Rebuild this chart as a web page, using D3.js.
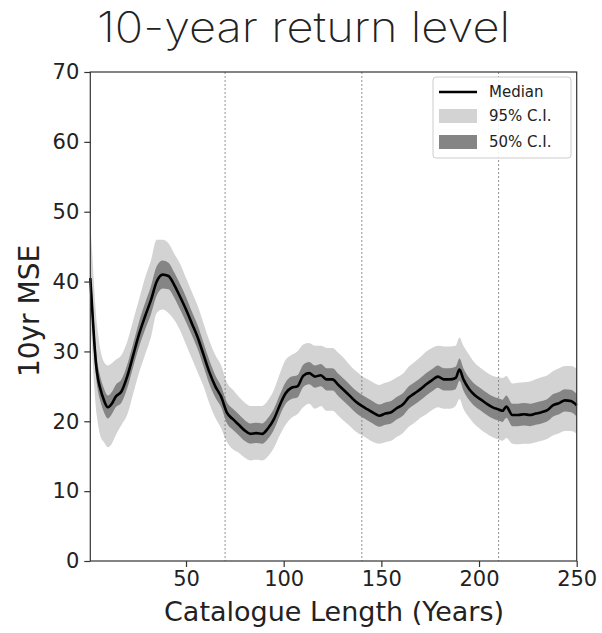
<!DOCTYPE html>
<html>
<head>
<meta charset="utf-8">
<script src="https://cdn.jsdelivr.net/npm/d3@7"></script>
<style>
  html, body { margin: 0; padding: 0; background: #fff; }
  svg { display: block; }
</style>
</head>
<body>
<svg id="chart" width="602" height="633"></svg>
<script>
const years = [1,2,3,4,5,6,8,10,12,14,17,20,23,26,29,32,35,38,41,44,47,50,53,56,59,62,65,68,71,74,77,80,83,86,89,92,95,98,101,104,107,110,113,116,119,122,125,128,131,134,137,140,143,146,149,152,155,158,161,164,167,170,173,176,179,182,185,188,190,192,195,198,201,204,207,210,212,214,217,220,223,226,229,232,235,238,241,244,247,250];

const median = [40.5,36,31.5,28,26,24.8,23,22,22.5,23.5,24.3,26.5,29.5,32.5,35,37.3,40,41,40.8,39.5,37.8,36,34,32,29.5,27,25,23.5,21.2,20.3,19.5,18.7,18.2,18.3,18.2,19,20.3,22.3,24,24.8,25,26.5,26.9,26.4,26.6,26,26,25.2,24.4,23.6,22.8,22.2,21.7,21.2,20.8,21.1,21.3,21.9,22.4,23.4,24,24.6,25.3,25.9,26.4,26,26,26.2,27.4,26,24.6,23.7,23.1,22.5,22,21.7,21.5,22.1,20.9,20.9,21,20.9,21.1,21.3,21.6,22.3,22.6,23,22.9,22.3];

const hi50 = [42.5,38,33.5,30,27.8,26.5,24.7,23.7,24.2,25.2,26,28.2,31.2,34.3,36.9,39.3,42.2,43,42.7,41.3,39.6,37.8,35.7,33.7,31.2,28.7,26.6,25,22.7,21.8,21,20.2,19.7,19.8,19.7,20.5,21.8,23.8,25.6,26.4,26.6,28.1,28.5,28,28.2,27.6,27.6,26.8,26,25.2,24.4,23.8,23.3,22.8,22.4,22.7,22.9,23.5,24,25,25.6,26.2,26.9,27.5,28,27.6,27.6,27.8,29,27.6,26.2,25.3,24.7,24.1,23.6,23.3,23.1,23.7,22.5,22.5,22.6,22.5,22.7,22.9,23.2,23.9,24.2,24.6,24.5,23.9];

const lo50 = [38.5,34,29.5,26.2,24.2,23,21.3,20.4,21,22,22.7,24.8,27.8,30.7,33.1,35.3,38,39,38.9,37.7,36,34.2,32.3,30.3,27.8,25.3,23.4,22,19.7,18.8,18,17.2,16.8,16.9,16.8,17.5,18.8,20.8,22.5,23.2,23.4,24.9,25.3,24.8,25,24.4,24.4,23.6,22.8,22,21.2,20.6,20.1,19.6,19.2,19.5,19.7,20.3,20.8,21.8,22.4,23,23.7,24.3,24.8,24.4,24.4,24.6,25.8,24.4,23,22.1,21.5,20.9,20.4,20.1,19.9,20.5,19.3,19.3,19.4,19.3,19.5,19.7,20,20.7,21,21.4,21.3,20.7];

const hi95 = [48,44,39,35,32.5,30.5,28.5,28,28.3,28.8,29.5,31.5,34.5,37.5,40.5,43,46,46,45.5,44,42.5,40.5,38.5,36.5,34,31.5,29.5,28,25.5,24.5,23.5,22.7,22.2,22.2,22.2,23,24.5,26.8,28.8,29.5,30,31,31.2,30.8,30.8,30.5,30.5,29.8,29,28,27.2,26.5,26,25.5,25.2,25.5,25.8,26.3,26.8,27.8,28.5,29.2,30,30.5,30.8,30.7,30.7,30.8,32,30.8,29.5,28.3,27.6,27,26.5,26.3,26.2,26.5,25.4,25.5,25.6,25.7,26,26.3,26.6,27.2,27.6,27.9,27.9,27.5];

const lo95 = [35,30,25,21.5,19.5,18,17,16.3,16.8,18,19.5,21,24,27,29.5,32,35.5,36,35.5,34.5,33,31,29,27,25,22.5,20.5,19,17,16,15.5,14.8,14.4,14.5,14.4,15,16.2,18,19.5,20.5,21,22,22.5,21.8,22.2,21.5,21.5,20.8,20,19.3,18.5,18,17.5,17,16.8,17,17.2,17.8,18.3,19.2,19.8,20.5,21,21.6,22,21.8,21.8,22.2,23.2,21.8,20.5,19.5,18.8,18.2,17.7,17.4,17.2,17.6,16.8,16.7,16.8,16.8,17,17.2,17.5,18,18.3,18.6,18.6,18.2];

const xTicks = [50,100,150,200,250];
const yTicks = [0,10,20,30,40,50,60,70];
const splitYears = [70,140,210];
const legendLabels = ["Median","95% C.I.","50% C.I."];

(function(){
const svg = d3.select("#chart");
const pL = 90.3, pR = 576.7, pT = 72, pB = 561;

const x = d3.scaleLinear().domain([1,250]).range([pL,pR]);
const y = d3.scaleLinear().domain([0,70]).range([pB,pT]);

const data = years.map((yr,i)=>({yr, m:median[i], h50:hi50[i], l50:lo50[i], h95:hi95[i], l95:lo95[i]}));

// title
svg.append("text")
  .attr("x", 97).attr("y", 42)
  .attr("textLength", 413).attr("lengthAdjust","spacingAndGlyphs")
  .style("font-family","Inter, Lato, 'Open Sans', sans-serif")
  .style("font-weight", 200)
  .style("font-size","42px")
  .style("fill","#222")
  .text("10-year return level");

const plot = svg.append("g");

const area95 = d3.area().x(d=>x(d.yr)).y0(d=>y(d.l95)).y1(d=>y(d.h95)).curve(d3.curveMonotoneX);
const area50 = d3.area().x(d=>x(d.yr)).y0(d=>y(d.l50)).y1(d=>y(d.h50)).curve(d3.curveMonotoneX);
const line = d3.line().x(d=>x(d.yr)).y(d=>y(d.m)).curve(d3.curveMonotoneX);

plot.append("path").datum(data).attr("d",area95).attr("fill","#d3d3d3");
plot.append("path").datum(data).attr("d",area50).attr("fill","#858585");

plot.selectAll("line.sep").data(splitYears).enter().append("line")
  .attr("class","sep")
  .attr("x1",d=>x(d)).attr("x2",d=>x(d))
  .attr("y1",pT).attr("y2",pB)
  .attr("stroke","#777").attr("stroke-width",0.8)
  .attr("stroke-dasharray","2,2");

plot.append("path").datum(data).attr("d",line)
  .attr("fill","none").attr("stroke","#000").attr("stroke-width",2.6)
  .attr("stroke-linejoin","round");

svg.append("rect").attr("x",pL).attr("y",pT)
  .attr("width",pR-pL).attr("height",pB-pT)
  .attr("fill","none").attr("stroke","#333").attr("stroke-width",1.2);

const fontTick = "DejaVu Sans, sans-serif";
const xAxis = svg.append("g").attr("transform",`translate(0,${pB})`)
  .call(d3.axisBottom(x).tickValues(xTicks).tickSize(6).tickPadding(4).tickFormat(d3.format("d")));
const yAxis = svg.append("g").attr("transform",`translate(${pL},0)`)
  .call(d3.axisLeft(y).tickValues(yTicks).tickSize(6).tickPadding(5).tickFormat(d3.format("d")));
[xAxis,yAxis].forEach(a=>{
  a.select(".domain").remove();
  a.selectAll(".tick line").attr("stroke","#333").attr("stroke-width",1.2);
  a.selectAll(".tick text").style("font-family",fontTick).style("font-size","21px").style("fill","#222");
});

svg.append("text")
  .attr("x", 334).attr("y", 621)
  .attr("text-anchor","middle")
  .style("font-family",fontTick).style("font-size","27px").style("fill","#222")
  .text("Catalogue Length (Years)");

svg.append("text")
  .attr("transform","translate(39,311) rotate(-90)")
  .attr("text-anchor","middle")
  .style("font-family",fontTick).style("font-size","28px").style("fill","#222")
  .text("10yr MSE");

const lg = svg.append("g");
lg.append("rect").attr("x",433).attr("y",77).attr("width",138).attr("height",81)
  .attr("rx",3).attr("fill","#fff").attr("fill-opacity",0.85)
  .attr("stroke","#ccc").attr("stroke-width",1);
const rowsY = [92,116,142];
lg.append("line").attr("x1",439).attr("x2",477).attr("y1",rowsY[0]).attr("y2",rowsY[0])
  .attr("stroke","#000").attr("stroke-width",2.6);
lg.append("rect").attr("x",439).attr("y",rowsY[1]-7).attr("width",38).attr("height",14).attr("fill","#d3d3d3");
lg.append("rect").attr("x",439).attr("y",rowsY[2]-7).attr("width",38).attr("height",14).attr("fill","#858585");
lg.selectAll("text.lgt").data(legendLabels).enter().append("text")
  .attr("class","lgt")
  .attr("x",489).attr("y",(d,i)=>rowsY[i]).attr("dy","0.35em")
  .style("font-family",fontTick).style("font-size","15px").style("fill","#222")
  .text(d=>d);
})();
</script>
</body>
</html>
